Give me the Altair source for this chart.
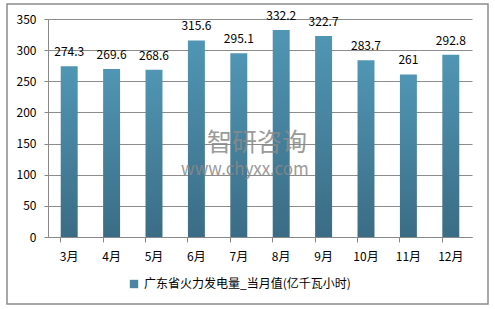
import altair as alt
import pandas as pd

months = ["3月", "4月", "5月", "6月", "7月", "8月", "9月", "10月", "11月", "12月"]
values = [274.3, 269.6, 268.6, 315.6, 295.1, 332.2, 322.7, 283.7, 261, 292.8]
series_name = "广东省火力发电量_当月值(亿千瓦小时)"
y_ticks = [0, 50, 100, 150, 200, 250, 300, 350]

df = pd.DataFrame({"month": months, "value": values, "series": [series_name] * len(months)})

FONT = "Noto Sans CJK SC"
W, H = 424, 218

x_enc = alt.X("month:N", sort=months, title=None,
              scale=alt.Scale(paddingInner=0.6, paddingOuter=0.3),
              axis=alt.Axis(labelAngle=0, bandPosition=0, ticks=True, tickSize=5,
                            tickColor="#888888", domainColor="#888888",
                            labelPadding=9, labelFontSize=12, labelColor="#000000",
                            labelFont=FONT, grid=False))
y_enc = alt.Y("value:Q", title=None,
              scale=alt.Scale(domain=[0, 350], nice=False),
              axis=alt.Axis(values=y_ticks, labelOverlap=False,
                            tickSize=4, tickColor="#888888", domainColor="#888888",
                            grid=True, gridColor="#8c8c8c", labelPadding=8, labelFontSize=12,
                            labelColor="#000000", labelFont=FONT))

gradient = alt.Gradient(gradient="linear",
                        stops=[alt.GradientStop(color="#5096b4", offset=0),
                               alt.GradientStop(color="#3b6c85", offset=1)],
                        x1=0, x2=0, y1=0, y2=1)

base = alt.Chart(df).encode(x=x_enc, y=y_enc)

bars = base.mark_bar(color=gradient)

labels = base.mark_text(dy=-14, fontSize=12, font=FONT, color="#000000").encode(
    text=alt.Text("value:Q"))

legend_layer = base.mark_square(opacity=0).encode(
    color=alt.Color("series:N", scale=alt.Scale(range=["#4a86a2"]),
                    legend=alt.Legend(title=None, orient="none", legendX=80, legendY=259,
                                      symbolType="square", symbolSize=70, symbolOpacity=1,
                                      symbolStrokeWidth=0, labelFont=FONT, labelFontSize=12,
                                      labelColor="#000000", labelLimit=400)))

wm_df = pd.DataFrame({"t": ["智研咨询"], "u": ["www.chyxx.com"]})
wm1 = alt.Chart(wm_df).mark_text(font=FONT, fontSize=25, color="#8a8a8a", opacity=0.85,
                                  align="left", baseline="middle").encode(
    text="t:N", x=alt.value(159), y=alt.value(124))
wm2 = alt.Chart(wm_df).mark_text(font=FONT, fontSize=17, color="#8a8a8a", opacity=0.85,
                                  align="left", baseline="middle").encode(
    text="u:N", x=alt.value(133), y=alt.value(151))

border = alt.Chart(wm_df).mark_rect(fill=None, stroke="#8c8c8c", strokeWidth=1.5).encode(
    x=alt.value(-41), x2=alt.value(440), y=alt.value(-15), y2=alt.value(285))

chart = alt.layer(border, bars, labels, legend_layer, wm1, wm2).properties(
    width=W, height=H,
    autosize=alt.AutoSizeParams(type="none"),
    padding={"left": 48, "top": 19, "right": 23, "bottom": 72},
    background="#ffffff",
).configure_view(stroke=None)

chart.save("out.html", embed_options={"renderer": "svg", "actions": False})
